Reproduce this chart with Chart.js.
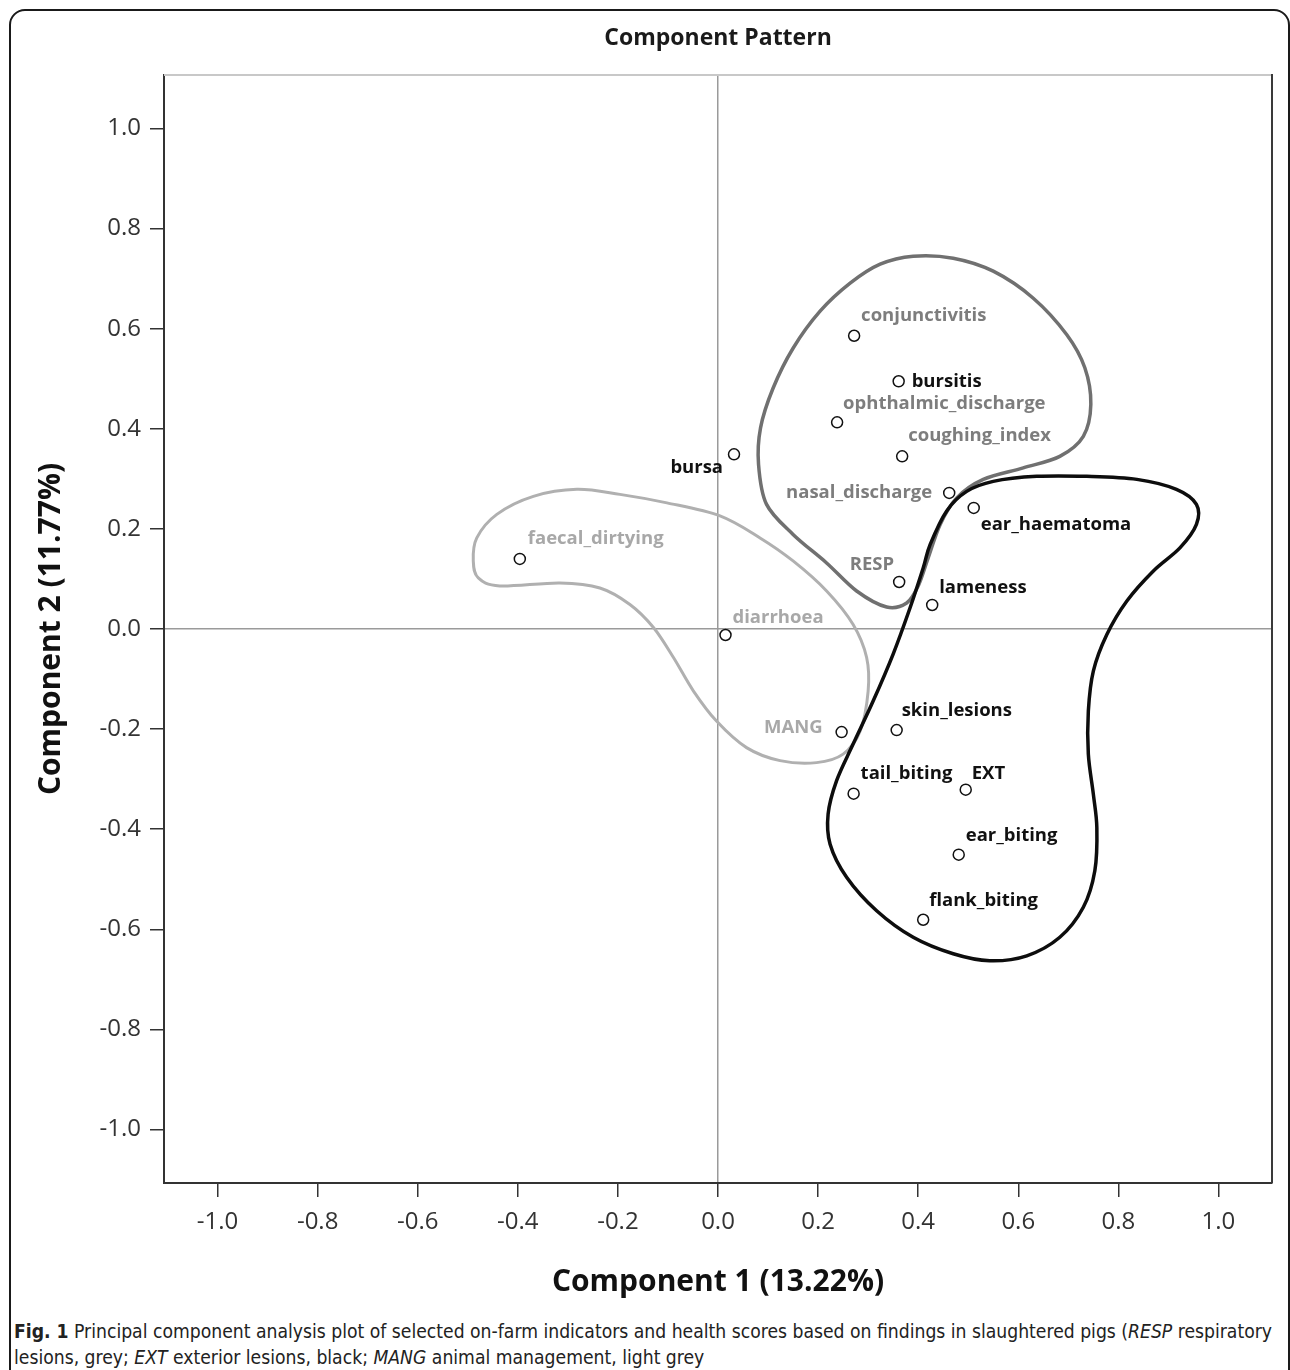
<!DOCTYPE html>
<html>
<head>
<meta charset="utf-8">
<script src="https://cdn.jsdelivr.net/npm/chart.js@4.4.0/dist/chart.umd.min.js"></script>
<style>
  body { margin: 0; background: #fff; width: 1290px; height: 1370px; position: relative; overflow: hidden; }
  #frame { position: absolute; left: 9px; top: 9px; width: 1281px; height: 1420px; box-sizing: border-box;
           border: 2px solid #1a1a1a; border-radius: 16px; }
  #wrap { position: absolute; left: 0; top: 0; width: 1290px; height: 1300px; }
  #caption { position: absolute; left: 14px; top: 1318px; color: #222;
             font-family: "DejaVu Sans Condensed", "Open Sans", sans-serif; font-stretch: condensed;
             font-size: 20px; line-height: 26px; }
  #caption div { white-space: nowrap; transform-origin: 0 50%; }
</style>
</head>
<body>
<div id="frame"></div>
<div id="wrap"><canvas id="pcaChart" width="1290" height="1300"></canvas></div>
<div id="caption">
  <div id="capLine1"><b>Fig. 1</b> Principal component analysis plot of selected on-farm indicators and health scores based on findings in slaughtered pigs (<i>RESP</i> respiratory</div>
  <div id="capLine2">lesions, grey; <i>EXT</i> exterior lesions, black; <i>MANG</i> animal management, light grey</div>
</div>
<script>
// Loadings
const names = ['conjunctivitis', 'bursitis', 'ophthalmic_discharge', 'bursa', 'coughing_index', 'nasal_discharge',
    'ear_haematoma', 'faecal_dirtying', 'RESP', 'lameness', 'diarrhoea', 'MANG', 'skin_lesions', 'tail_biting',
    'EXT', 'ear_biting', 'flank_biting'];
const comp1 = [0.272, 0.361, 0.238, 0.032, 0.368, 0.462, 0.511, -0.396, 0.362, 0.428, 0.015, 0.247, 0.357, 0.271, 0.495, 0.481, 0.410];
const comp2 = [0.586, 0.495, 0.413, 0.349, 0.345, 0.272, 0.242, 0.140, 0.094, 0.048, -0.012, -0.206, -0.202, -0.329, -0.321, -0.451, -0.581];
const groups = ['RESP', 'EXT', 'RESP', 'EXT', 'RESP', 'RESP', 'EXT', 'MANG', 'RESP', 'EXT', 'MANG', 'MANG', 'EXT', 'EXT', 'EXT', 'EXT', 'EXT'];

const xTicks = [-1.0, -0.8, -0.6, -0.4, -0.2, 0.0, 0.2, 0.4, 0.6, 0.8, 1.0];
const yTicks = [-1.0, -0.8, -0.6, -0.4, -0.2, 0.0, 0.2, 0.4, 0.6, 0.8, 1.0];

// Hand drawn group outlines (component units)
const respOutline = [[0.390, 0.745], [0.324, 0.729], [0.264, 0.691], [0.204, 0.635], [0.150, 0.561], [0.110, 0.481],
    [0.085, 0.402], [0.081, 0.329], [0.097, 0.249], [0.150, 0.189], [0.217, 0.132], [0.277, 0.076], [0.337, 0.044],
    [0.377, 0.052], [0.400, 0.086], [0.420, 0.142], [0.444, 0.209], [0.477, 0.262], [0.530, 0.299], [0.610, 0.322],
    [0.683, 0.345], [0.730, 0.385], [0.745, 0.449], [0.733, 0.522], [0.697, 0.588], [0.630, 0.661], [0.550, 0.715], [0.470, 0.741]];
const extOutline = [[0.424, 0.169], [0.457, 0.236], [0.497, 0.275], [0.550, 0.295], [0.637, 0.305], [0.737, 0.305],
    [0.837, 0.299], [0.916, 0.279], [0.956, 0.249], [0.956, 0.209], [0.923, 0.162], [0.870, 0.116], [0.817, 0.056],
    [0.777, -0.011], [0.750, -0.084], [0.740, -0.164], [0.740, -0.250], [0.750, -0.330], [0.757, -0.397], [0.753, -0.483],
    [0.730, -0.556], [0.683, -0.616], [0.617, -0.653], [0.543, -0.663], [0.470, -0.649], [0.390, -0.616], [0.317, -0.563],
    [0.257, -0.496], [0.224, -0.430], [0.220, -0.370], [0.237, -0.303], [0.270, -0.230], [0.310, -0.144], [0.350, -0.050],
    [0.384, 0.043], [0.410, 0.122]];
const mangOutline = [[-0.479, 0.102], [-0.436, 0.086], [-0.316, 0.092], [-0.236, 0.082], [-0.176, 0.049], [-0.129, 0.003],
    [-0.089, -0.057], [-0.049, -0.124], [-0.003, -0.184], [0.057, -0.237], [0.124, -0.263], [0.197, -0.267], [0.250, -0.250],
    [0.284, -0.204], [0.300, -0.124], [0.297, -0.057], [0.270, 0.009], [0.217, 0.076], [0.150, 0.136], [0.084, 0.182],
    [0.004, 0.226], [-0.102, 0.252], [-0.196, 0.269], [-0.282, 0.279], [-0.369, 0.265], [-0.442, 0.229], [-0.482, 0.182], [-0.489, 0.136]];

// Styling
const groupColors = { RESP: '#7d7d7d', EXT: '#111111', MANG: '#a8a8a8' };
const outlines = [
    { pts: mangOutline, color: '#b0b0b0', width: 3 },
    { pts: respOutline, color: '#707070', width: 3.5 },
    { pts: extOutline, color: '#0d0d0d', width: 3.5 }
];
// label placement relative to the marker, in pixels
const labelPlace = {
    conjunctivitis: [7, -20, 'left'], bursitis: [13, 0, 'left'], ophthalmic_discharge: [6, -19, 'left'],
    bursa: [-11, 13, 'right'], coughing_index: [6, -21, 'left'], nasal_discharge: [-17, 0, 'right'],
    ear_haematoma: [7, 17, 'left'], faecal_dirtying: [8, -20, 'left'], RESP: [-5, -17, 'right'],
    lameness: [7, -17, 'left'], diarrhoea: [7, -17, 'left'], MANG: [-19, -4, 'right'],
    skin_lesions: [5, -19, 'left'], tail_biting: [7, -20, 'left'], EXT: [6, -16, 'left'],
    ear_biting: [7, -19, 'left'], flank_biting: [6, -19, 'left']
};

const FONT = '"Open Sans", "DejaVu Sans", sans-serif';

// closed Catmull-Rom curve through outline points
const outlinePlugin = {
    id: 'outlines',
    beforeDatasetsDraw(chart) {
        const { ctx, chartArea, scales } = chart;
        ctx.save();
        ctx.beginPath();
        ctx.rect(chartArea.left, chartArea.top, chartArea.right - chartArea.left, chartArea.bottom - chartArea.top);
        ctx.clip();
        outlines.forEach(o => {
            const p = o.pts.map(d => [scales.x.getPixelForValue(d[0]), scales.y.getPixelForValue(d[1])]);
            const n = p.length;
            ctx.beginPath();
            ctx.moveTo(p[0][0], p[0][1]);
            for (let i = 0; i < n; i++) {
                const p0 = p[(i - 1 + n) % n], p1 = p[i], p2 = p[(i + 1) % n], p3 = p[(i + 2) % n];
                ctx.bezierCurveTo(
                    p1[0] + (p2[0] - p0[0]) / 6, p1[1] + (p2[1] - p0[1]) / 6,
                    p2[0] - (p3[0] - p1[0]) / 6, p2[1] - (p3[1] - p1[1]) / 6,
                    p2[0], p2[1]);
            }
            ctx.closePath();
            ctx.strokeStyle = o.color;
            ctx.lineWidth = o.width;
            ctx.lineJoin = 'round';
            ctx.stroke();
        });
        ctx.restore();
    }
};

const labelPlugin = {
    id: 'pointLabels',
    afterDatasetsDraw(chart) {
        const { ctx, scales } = chart;
        ctx.save();
        ctx.font = 'bold 18.5px ' + FONT;
        ctx.textBaseline = 'middle';
        names.forEach((n, i) => {
            const px = scales.x.getPixelForValue(comp1[i]);
            const py = scales.y.getPixelForValue(comp2[i]);
            const pl = labelPlace[n];
            ctx.fillStyle = groupColors[groups[i]];
            ctx.textAlign = pl[2];
            ctx.fillText(n, px + pl[0], py + pl[1]);
        });
        ctx.restore();
    }
};

const framePlugin = {
    id: 'frame',
    afterDraw(chart) {
        const { ctx, chartArea } = chart;
        ctx.save();
        ctx.lineWidth = 2;
        ctx.strokeStyle = '#c8c8c8';
        ctx.beginPath();
        ctx.moveTo(chartArea.left, chartArea.top);
        ctx.lineTo(chartArea.right, chartArea.top);
        ctx.stroke();
        ctx.strokeStyle = '#3a3a3a';
        ctx.beginPath();
        ctx.moveTo(chartArea.right, chartArea.top - 1);
        ctx.lineTo(chartArea.right, chartArea.bottom);
        ctx.stroke();
        // title
        ctx.fillStyle = '#1a1a1a';
        ctx.font = 'bold 23px ' + FONT;
        ctx.textAlign = 'center';
        ctx.textBaseline = 'middle';
        ctx.fillText('Component Pattern', (chartArea.left + chartArea.right) / 2, 38);
        ctx.restore();
    }
};

function axisGrid() {
    return {
        drawOnChartArea: true,
        color: c => (c.tick && c.tick.value === 0 ? '#9a9a9a' : 'rgba(0,0,0,0)'),
        lineWidth: 1.5,
        tickColor: '#333',
        tickWidth: 1.5,
        tickLength: 14
    };
}

const ctx = document.getElementById('pcaChart').getContext('2d');
const pcaChart = new Chart(ctx, {
    type: 'scatter',
    data: {
        datasets: [{
            data: names.map((n, i) => ({ x: comp1[i], y: comp2[i] })),
            pointRadius: 5.5,
            pointBorderWidth: 1.5,
            pointBorderColor: '#111',
            pointBackgroundColor: '#fff'
        }]
    },
    options: {
        responsive: false,
        animation: false,
        layout: { padding: { top: 75, right: 18, left: 29, bottom: 0 } },
        scales: {
            x: {
                type: 'linear',
                min: -1.107,
                max: 1.107,
                afterBuildTicks: scale => { scale.ticks = xTicks.map(v => ({ value: v })); },
                afterFit: scale => { scale.height = 117; },
                grid: axisGrid(),
                border: { color: '#333', width: 2 },
                ticks: {
                    padding: 11,
                    color: '#333',
                    font: { family: FONT, size: 24 },
                    callback: v => v.toFixed(1)
                },
                title: {
                    display: true,
                    text: 'Component 1 (13.22%)',
                    color: '#111',
                    font: { family: FONT, size: 30, weight: 'bold' },
                    padding: { top: 0, bottom: 0 }
                }
            },
            y: {
                type: 'linear',
                min: -1.107,
                max: 1.107,
                afterBuildTicks: scale => { scale.ticks = yTicks.map(v => ({ value: v })); },
                afterFit: scale => { scale.width = 135; },
                grid: axisGrid(),
                border: { color: '#333', width: 2 },
                ticks: {
                    padding: 9,
                    color: '#333',
                    font: { family: FONT, size: 24 },
                    callback: v => v.toFixed(1)
                },
                title: {
                    display: true,
                    text: 'Component 2 (11.77%)',
                    color: '#111',
                    font: { family: FONT, size: 30, weight: 'bold' },
                    padding: { top: 4, bottom: 0 }
                }
            }
        },
        plugins: {
            legend: { display: false },
            tooltip: { enabled: false }
        }
    },
    plugins: [outlinePlugin, labelPlugin, framePlugin]
});

// squeeze the caption so its first line fills the figure width
const capWidth = 1258;
const line1 = document.getElementById('capLine1');
const line2 = document.getElementById('capLine2');
const k = Math.min(1, capWidth / line1.scrollWidth);
line1.style.transform = 'scaleX(' + k + ')';
line2.style.transform = 'scaleX(' + k + ')';
</script>
</body>
</html>
